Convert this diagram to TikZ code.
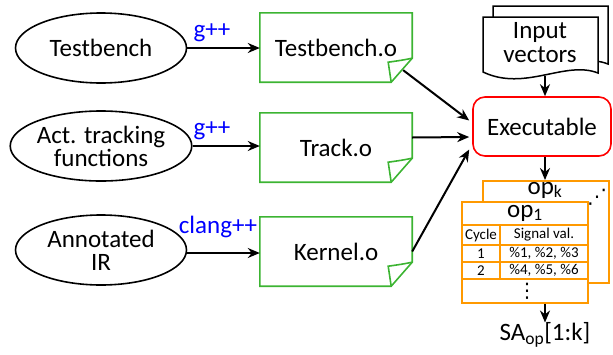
\documentclass[tikz,border=0pt]{standalone}
\usepackage{fontspec}
\setmainfont{Carlito}
\newfontfamily\symfont{DejaVu Sans}
\usetikzlibrary{arrows.meta,shapes.geometric,calc}
\definecolor{objgreen}{RGB}{60,180,50}
\definecolor{exred}{RGB}{255,0,0}
\definecolor{taborange}{RGB}{255,153,0}
\definecolor{lblblue}{RGB}{0,0,255}
\newcommand\objshape[1]{%
  \draw[objline] (#1.north west) -- (#1.north east) -- ($(#1.south east)+(0,-24)$) -- ($(#1.south east)+(-21,0)$) -- (#1.south west) -- cycle;
  \draw[objline] ($(#1.south east)+(0,-24)$) .. controls ($(#1.south east)+(-10,-22)$) .. ($(#1.south east)+(-24,-20)$) -- ($(#1.south east)+(-21,0)$);
}
\begin{document}
\begin{tikzpicture}[x=1pt,y=-1pt,
  every node/.style={font=\fontsize{25}{23}\selectfont},
  src/.style={ellipse, draw, line width=1.6pt, minimum width=171pt, minimum height=70pt, inner sep=0pt, align=center},
  obj/.style={minimum width=152pt, minimum height=69pt, inner sep=0pt},
  objline/.style={draw=objgreen, line width=1.6pt, line join=miter},
  arr/.style={line width=2pt, -{Stealth[length=12pt,width=10pt]}},
  lbl/.style={text=lblblue, inner sep=0pt},
  cell/.style={font=\fontsize{15}{17}\selectfont, inner sep=0pt},
  tabline/.style={draw=taborange, line width=1.9pt},
  doc/.style={fill=white, draw=black, line width=1.5pt}]
\useasboundingbox (0,0) rectangle (613,354);

% sources
\node[src] (tb) at (101,48) {Testbench};
\node[src] (act) at (101,146) {Act. tracking\\functions};
\node[src] (ann) at (101,250) {Annotated\\IR};

% object files
\node[obj] (tbo) at (336,47.5) {Testbench.o};
\node[obj] (trk) at (336,147.5) {Track.o};
\node[obj] (ker) at (336,251.5) {Kernel.o};
\objshape{tbo}
\objshape{trk}
\objshape{ker}

% compiler arrows
\draw[arr] (tb.east) -- (tb.east -| tbo.west);
\draw[arr] (act.east) -- (act.east -| trk.west);
\draw[arr] ($(ann.east)+(0,3)$) -- ($(ann.east -| ker.west)+(0,3)$);
\node[lbl] (g1) at (212,33) {g++};
\node[lbl] (g2) at (212,131) {g++};
\node[lbl] (g3) at (218,227) {clang++};

% executable
\node[draw=exred, line width=1.6pt, rounded corners=12pt, minimum width=138pt, minimum height=59pt, inner sep=0pt] (exe) at (542,126.5) {Executable};
\draw[arr] ($(tbo.south east)+(-9,-12)$) -- ($(exe.west)+(-3,-6)$);
\draw[arr] ($(trk.east)+(0,-10)$) -- ($(exe.west)+(-3,10.5)$);
\draw[arr] (ker.east) -- ($(exe.west)+(-3,23)$);

% input vectors
\draw[doc] (493,6) -- (608,6) -- (608,64) .. controls (575,51) and (535,82) .. (493,63) -- cycle;
\draw[doc] (483,17) -- (598,17) -- (598,73) .. controls (565,60) and (525,92) .. (483,72) -- cycle;
\node[align=center, inner sep=0pt, font=\fontsize{25}{24}\selectfont] (inp) at (540,43) {Input\\vectors};
\coordinate (inpb) at (545,76);
\draw[arr] (inpb) -- (inpb |- exe.north);

% tables
\node[tabline, fill=white, minimum width=126pt, minimum height=102pt, inner sep=0pt] (tabk) at (546,232) {};
\node[inner sep=0pt] (opk) at (545,190) {op\textsubscript{k}};
\node[inner sep=0pt, font=\symfont\fontsize{20}{20}\selectfont] (dk) at (597,197) {⋰};
\node[tabline, fill=white, minimum width=126pt, minimum height=101pt, inner sep=0pt] (tab) at (525,252.5) {};
\draw[tabline] (462,225) -- (588,225);
\draw[tabline] (462,245) -- (588,245);
\draw[tabline] (462,262) -- (588,262);
\draw[tabline] (462,279) -- (588,279);
\draw[tabline] (500,225) -- (500,279);
\node[inner sep=0pt] (op1) at (525,213) {op\textsubscript{1}};
\node[cell] (c0) at (481,235) {Cycle};
\node[cell] (s0) at (544,235) {Signal val.};
\node[cell] (c1) at (481,253.5) {1};
\node[cell] (s1) at (544,253.5) {\%1, \%2, \%3};
\node[cell] (c2) at (481,270.5) {2};
\node[cell] (s2) at (544,270.5) {\%4, \%5, \%6};
\node[inner sep=0pt, font=\symfont\fontsize{20}{20}\selectfont] (vd) at (527,291) {⋮};

\draw[arr] (exe.south -| inpb) -- (inpb |- tabk.north);

\node[inner sep=0pt] (sa) at (545,335) {SA\textsubscript{op}[1:k]};
\draw[arr] (tab.south -| sa.north) -- (sa.north);
\end{tikzpicture}
\end{document}
